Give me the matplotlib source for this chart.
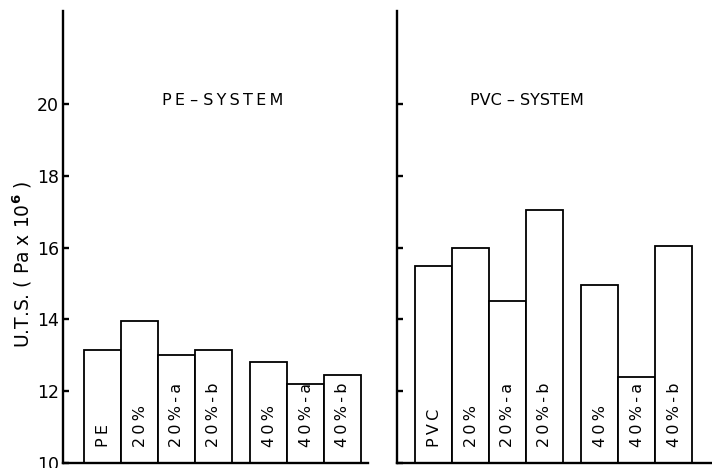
import matplotlib
matplotlib.use("Agg")
import matplotlib.pyplot as plt

# Ultimate tensile strength (Pa x 10^6) of the blends
pe_labels = ["PE", "20%", "20%-a", "20%-b", "40%", "40%-a", "40%-b"]
pe_values = [13.15, 13.95, 13.0, 13.15, 12.8, 12.2, 12.45]

pvc_labels = ["PVC", "20%", "20%-a", "20%-b", "40%", "40%-a", "40%-b"]
pvc_values = [15.5, 16.0, 14.5, 17.05, 14.95, 12.4, 16.05]

panel_titles = ["P\u2009E \u2013 S\u2009Y\u2009S\u2009T\u2009E\u2009M", "PVC \u2013 SYSTEM"]
y_ticks = [10, 12, 14, 16, 18, 20]

# bar slots: two groups (20 % and 40 %) separated by half a bar
positions = [0, 1, 2, 3, 4.5, 5.5, 6.5]

plt.rcParams["font.family"] = ["DejaVu Sans"]

fig = plt.figure(figsize=(7.12, 4.68), dpi=100)
ax_pe = fig.add_axes([0.0885, 0.0107, 0.4284, 0.9658])
ax_pvc = fig.add_axes([0.5576, 0.0107, 0.4424, 0.9658])


def spaced(text):
    # open up the lettering a little, typewriter-style
    return "\u2009".join(text)


def draw_panel(ax, labels, values, title, title_x, xlim):
    ax.bar(positions, [v - 10 for v in values], bottom=10, width=1.0,
           facecolor="white", edgecolor="black", linewidth=1.3, zorder=2)
    for x, lab in zip(positions, labels):
        ax.text(x + 0.02, 10.45, spaced(lab), rotation=90, ha="center", va="bottom",
                fontsize=11.5, color="black", zorder=3)
    ax.text(title_x, 20.1, title, ha="center", va="center",
            fontsize=11.5, color="black")
    ax.set_xlim(*xlim)
    ax.set_ylim(10, 22.59)
    for side in ("top", "right"):
        ax.spines[side].set_visible(False)
    for side in ("left", "bottom"):
        ax.spines[side].set_linewidth(1.7)
        ax.spines[side].set_color("black")
    ax.set_xticks([])
    ax.set_yticks(y_ticks)
    ax.tick_params(axis="y", direction="in", length=4.5, width=1.7,
                   pad=3, labelsize=12.5, colors="black")


draw_panel(ax_pe, pe_labels, pe_values, panel_titles[0], 3.27, (-1.069, 7.20))
draw_panel(ax_pvc, pvc_labels, pvc_values, panel_titles[1], 2.53, (-0.988, 7.55))

ax_pe.set_yticklabels([str(t) for t in y_ticks])
ax_pvc.set_yticklabels([])

fig.text(0.031, 0.435, "U.T.S. ( Pa x 10$^{\\mathbf{6}}$ )", rotation=90,
         ha="center", va="center", fontsize=13.5, color="black")

fig.savefig("out.png", dpi=100)
